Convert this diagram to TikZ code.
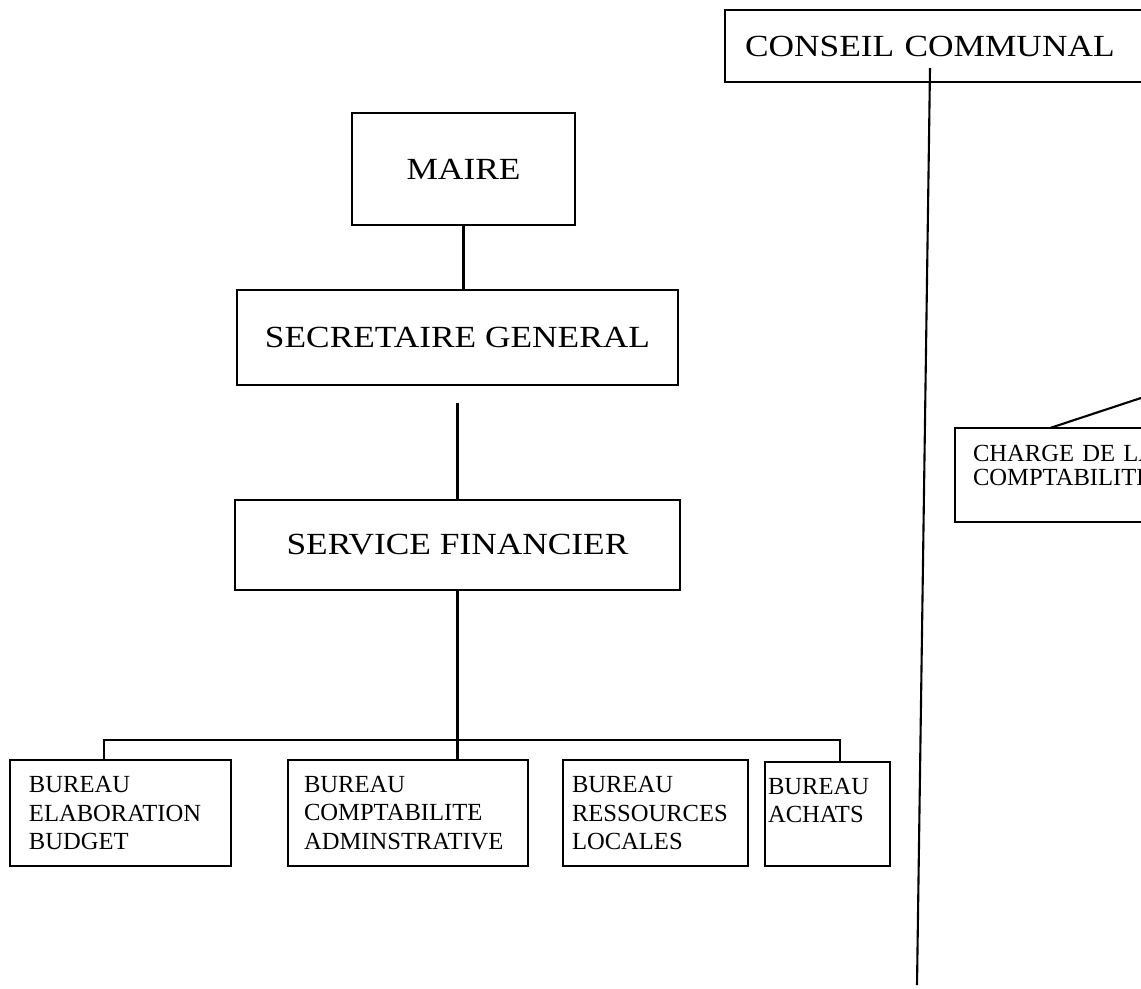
\documentclass[tikz,border=0pt]{standalone}
\usepackage{fontspec}
\setmainfont{Liberation Serif}
\newfontfamily\bigfont[FakeStretch=1.15]{Liberation Serif}
\newdimen\pxu \pxu=0.02cm
\begin{document}
\begin{tikzpicture}[x=0.02cm,y=-0.02cm,
  box/.style={draw, line width=1.2pt, outer sep=0pt, inner ysep=0pt},
  big/.style={font=\bigfont\fontsize{17.5}{20}\selectfont},
  small/.style={font=\fontsize{14}{16}\selectfont, align=left},
  conn/.style={line width=1.2pt}]
\useasboundingbox (0,0) rectangle (1141,988);
\fill[white] (0,0) rectangle (1141,988);
\clip (0,0) rectangle (1141,988);

% top level
\node[box, big, anchor=north west, text width=400\pxu, inner xsep=20\pxu, align=left, minimum height=72\pxu] (conseil) at (725,10) {CONSEIL COMMUNAL};
\node[box, big, minimum width=223\pxu, minimum height=112\pxu] (maire) at (463.5,169) {MAIRE};
\node[box, big, minimum width=441\pxu, minimum height=95\pxu] (sg) at (457.5,337.5) {SECRETAIRE GENERAL};
\node[box, big, minimum width=445\pxu, minimum height=90\pxu] (sf) at (457.5,545) {SERVICE FINANCIER};

% bureaux
\node[box, small, anchor=north west, text width=183\pxu, inner xsep=19\pxu, minimum height=106\pxu] (elab) at (10,760) {BUREAU\\ELABORATION\\BUDGET};
\node[box, small, anchor=north west, text width=208\pxu, inner xsep=16\pxu, minimum height=106\pxu] (compt) at (288,760) {BUREAU\\COMPTABILITE\\ADMINSTRATIVE};
\node[box, small, anchor=north west, text width=167\pxu, inner xsep=9\pxu, minimum height=106\pxu] (ress) at (563,760) {BUREAU\\RESSOURCES\\LOCALES};
\node[box, small, anchor=north west, text width=119\pxu, inner xsep=3\pxu, minimum height=104\pxu] (achats) at (765,762) {BUREAU\\ACHATS\\~};

% charge
\node[box, anchor=north west, font=\fontsize{14}{13.7}\selectfont, align=left, text width=187\pxu, inner xsep=18\pxu, minimum height=94\pxu] (charge) at (955,428) {\raisebox{-4\pxu}{CHARGE DE LA}\\\raisebox{-4\pxu}{COMPTABILITE}\\~};

% connectors
\draw[conn] (maire.south) -- (maire.south |- sg.north);
\draw[conn] ([yshift=-18\pxu]sg.south) -- (sf.north);
\draw[conn] (sf.south) -- (sf.south |- compt.north);
\coordinate (bl) at (104,740);
\coordinate (br) at (840,740);
\draw[conn] (bl |- elab.north) -- (bl) -- (br) -- (br |- achats.north);

\coordinate (cv1) at (930,68);
\coordinate (cv2) at (917,985);
\draw[conn] (cv1) -- (cv2);

\coordinate (ch) at (1150,395);
\draw[conn] ([xshift=95\pxu]charge.north west) -- (ch);
\end{tikzpicture}
\end{document}
